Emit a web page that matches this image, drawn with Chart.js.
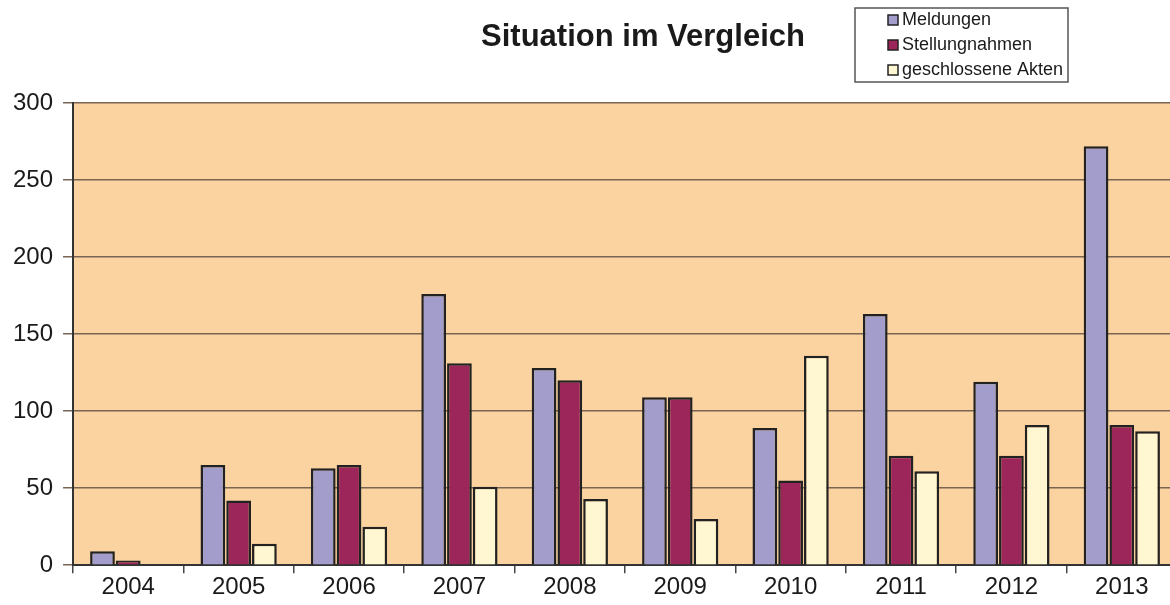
<!DOCTYPE html>
<html><head><meta charset="utf-8">
<script src="https://cdn.jsdelivr.net/npm/chart.js@4.4.1/dist/chart.umd.min.js"></script>
<style>html,body{margin:0;padding:0;background:#fff;overflow:hidden}#wrap{width:1170px;height:605px;position:relative;overflow:hidden}</style>
</head><body><div id="wrap"><canvas id="c" width="1177" height="605"></canvas></div>
<script>
const categories = ['2004','2005','2006','2007','2008','2009','2010','2011','2012','2013'];
const meldungen = [9, 65, 63, 176, 128, 109, 89, 163, 119, 272];
const stellungnahmen = [3, 42, 65, 131, 120, 109, 55, 71, 71, 91];
const geschlosseneAkten = [0, 14, 25, 51, 43, 30, 136, 61, 91, 87];
const seriesNames = ['Meldungen', 'Stellungnahmen', 'geschlossene Akten'];
const seriesColors = ['#a29dcb', '#9c2659', '#fff7d2'];
const titleText = 'Situation im Vergleich';

const FONT = "'Liberation Sans', Arial, sans-serif";

const decor = {
  id: 'decor',
  beforeDraw(chart) {
    const {ctx, chartArea: a} = chart;
    ctx.save();
    ctx.fillStyle = '#fad3a0';
    ctx.fillRect(a.left, a.top, a.right - a.left, a.bottom - a.top);
    ctx.restore();
  },
  afterDraw(chart) {
    const ctx = chart.ctx;
    ctx.save();
    ctx.fillStyle = '#1a1a1a';
    ctx.font = "bold 31px " + FONT;
    ctx.textAlign = 'center';
    ctx.textBaseline = 'alphabetic';
    ctx.fillText(titleText, 643, 46);
    // legend
    const lx = 855, ly = 8, lw = 213, lh = 74;
    ctx.fillStyle = '#fff';
    ctx.fillRect(lx, ly, lw, lh);
    ctx.strokeStyle = '#555';
    ctx.lineWidth = 1.5;
    ctx.strokeRect(lx, ly, lw, lh);
    ctx.font = "18px " + FONT;
    ctx.textAlign = 'left';
    ctx.textBaseline = 'middle';
    chart.data.datasets.forEach((ds, i) => {
      const y = 20 + i * 25;
      ctx.fillStyle = ds.backgroundColor;
      ctx.fillRect(888, y - 5, 10, 10);
      ctx.strokeStyle = '#222';
      ctx.lineWidth = 1.5;
      ctx.strokeRect(888, y - 5, 10, 10);
      ctx.fillStyle = '#1a1a1a';
      ctx.fillText(ds.label, 902, y);
    });
    ctx.restore();
  }
};

new Chart(document.getElementById('c'), {
  type: 'bar',
  data: {
    labels: categories,
    datasets: [meldungen, stellungnahmen, geschlosseneAkten].map((d, i) => ({
      label: seriesNames[i],
      data: d,
      backgroundColor: seriesColors[i],
      borderColor: '#222',
      borderWidth: 2.5,
      borderSkipped: 'bottom',
      categoryPercentage: 0.7,
      barPercentage: 0.96
    }))
  },
  options: {
    responsive: false,
    animation: false,
    layout: { padding: { top: 103, right: 0, left: 3, bottom: 3 } },
    plugins: { legend: { display: false }, title: { display: false }, tooltip: { enabled: false } },
    scales: {
      x: {
        offset: true,
        grid: { offset: true, drawOnChartArea: false, drawTicks: true, tickLength: 8, color: '#444', lineWidth: 1.5 },
        border: { color: '#333', width: 2 },
        ticks: { color: '#1a1a1a', font: { family: FONT, size: 24 }, padding: 0 }
      },
      y: {
        min: 0, max: 300,
        ticks: { stepSize: 50, color: '#1a1a1a', font: { family: FONT, size: 24 }, padding: 10 },
        grid: { color: '#7a6553', lineWidth: 1.5, tickLength: 10 },
        border: { color: '#333', width: 2 }
      }
    }
  },
  plugins: [decor]
});
</script></body></html>
